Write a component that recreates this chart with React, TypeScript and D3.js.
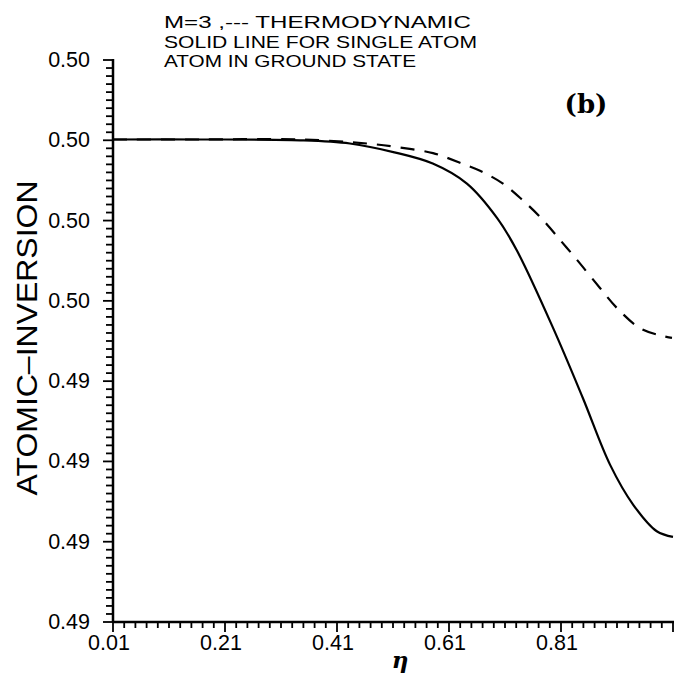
import React from "react";
import * as d3 from "d3";

const solidX = [0.01, 0.165, 0.344, 0.433, 0.5125, 0.581, 0.642, 0.696, 0.731, 0.796, 0.849, 0.8975, 0.939, 0.981, 1.01];
const solidY = [0.49751, 0.49751, 0.4975, 0.49746, 0.49735, 0.49721, 0.49696, 0.49653, 0.49613, 0.49516, 0.49429, 0.49346, 0.49296, 0.49263, 0.49256];

const dashX = [0.01, 0.165, 0.344, 0.4636, 0.5225, 0.5814, 0.6296, 0.6654, 0.7064, 0.7421, 0.7761, 0.8082, 0.8386, 0.8796, 0.91, 0.9511, 0.9868, 1.0082];
const dashY = [0.49751, 0.49751, 0.49751, 0.49746, 0.49741, 0.49734, 0.49722, 0.49712, 0.49696, 0.49675, 0.49652, 0.49626, 0.49601, 0.49566, 0.49541, 0.49516, 0.49507, 0.49504];

const yTicks = [0.4985, 0.4975, 0.4965, 0.4955, 0.4945, 0.4935, 0.4925, 0.4915];
const xTicks = [0.01, 0.21, 0.41, 0.61, 0.81];

const titleLines = ["M=3 ,--- THERMODYNAMIC", "SOLID LINE FOR SINGLE ATOM", "ATOM IN GROUND STATE"];
const titleWidths = [307, 313, 252];

export default function App() {
  const W = 674, H = 674;
  const x = d3.scaleLinear().domain([0.01, 1.01]).range([113, 673]);
  const y = d3.scaleLinear().domain([0.4985, 0.4915]).range([60, 622]);
  const fmt = d3.format(".2f");

  const line = d3
    .line<[number, number]>()
    .x((d) => x(d[0]))
    .y((d) => y(d[1]))
    .curve(d3.curveCatmullRom.alpha(0.5));

  const solid = line(solidX.map((v, i) => [v, solidY[i]]) as [number, number][]) || "";
  const dashed = line(dashX.map((v, i) => [v, dashY[i]]) as [number, number][]) || "";

  const yMinor = d3.range(0, 71).map((i) => 0.4985 - i * 0.0001);
  const xMinor = d3.range(0, 51).map((i) => 0.01 + i * 0.02);

  const sans = "'Liberation Sans', Arial, sans-serif";
  const x0 = x(0.01);
  const yb = y(0.4915);

  return (
    <svg width={W} height={H} style={{ position: "absolute", left: 0, top: 0, background: "#fff" }}>
      <rect width={W} height={H} fill="#fff" />
      {titleLines.map((t, i) => (
        <text
          key={i}
          x={164}
          y={28 + i * 19.5}
          fontFamily={sans}
          fontSize={17}
          textLength={titleWidths[i]}
          lengthAdjust="spacingAndGlyphs"
          fill="#000"
        >
          {t}
        </text>
      ))}
      <text x={586} y={113} textAnchor="middle" fontFamily="'DejaVu Serif', serif" fontWeight="bold" fontSize={26} fill="#000">
        (b)
      </text>

      <line x1={x0} x2={x0} y1={y(0.4985) - 1} y2={yb} stroke="#000" strokeWidth={2.5} />
      {yMinor.map((v, i) => (
        <line key={"ym" + i} x1={x0 - (i % 10 === 0 ? 10 : 7)} x2={x0} y1={y(v)} y2={y(v)} stroke="#000" strokeWidth={1.8} />
      ))}
      {yTicks.map((v, i) => (
        <text key={"yt" + i} x={90} y={y(v)} textAnchor="end" dominantBaseline="central" fontFamily={sans} fontSize={21.5} fill="#000">
          {fmt(v)}
        </text>
      ))}

      <line x1={x0} x2={W} y1={yb} y2={yb} stroke="#000" strokeWidth={2.5} />
      {xMinor.map((v, i) => (
        <line key={"xm" + i} x1={x(v)} x2={x(v)} y1={yb} y2={yb + (i % 10 === 0 ? 10 : 6)} stroke="#000" strokeWidth={1.8} />
      ))}
      {xTicks.map((v, i) => (
        <text key={"xt" + i} x={x(v) - 4} y={643} textAnchor="middle" dominantBaseline="central" fontFamily={sans} fontSize={21.5} fill="#000">
          {fmt(v)}
        </text>
      ))}

      <text x={400} y={668} textAnchor="middle" fontFamily="'DejaVu Serif', serif" fontWeight="bold" fontStyle="italic" fontSize={23} fill="#000">
        η
      </text>
      <text
        transform={`translate(27,338) rotate(-90)`}
        textAnchor="middle"
        dominantBaseline="central"
        fontFamily={sans}
        fontSize={29}
        textLength={315}
        lengthAdjust="spacingAndGlyphs"
        fill="#000"
      >
        ATOMIC–INVERSION
      </text>

      <path d={solid} fill="none" stroke="#000" strokeWidth={2.2} />
      <path d={dashed} fill="none" stroke="#000" strokeWidth={2.2} strokeDasharray="14 10" />
    </svg>
  );
}
